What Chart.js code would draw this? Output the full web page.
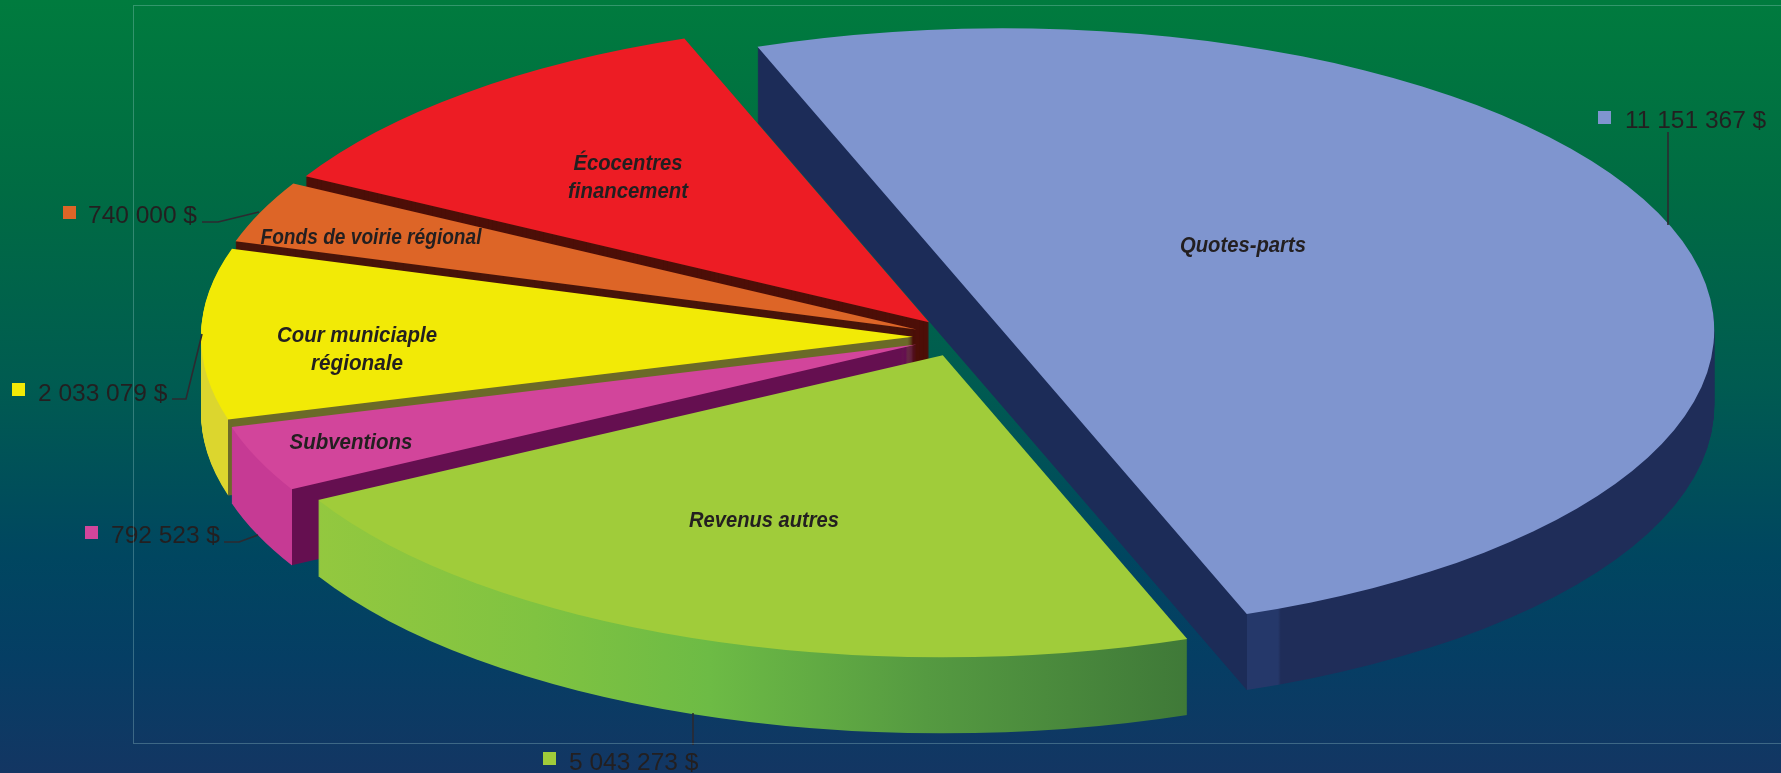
<!DOCTYPE html>
<html lang="fr">
<head>
<meta charset="utf-8">
<title>Revenus</title>
<script src="https://cdn.jsdelivr.net/npm/chart.js@4"></script>
<style>
  html, body { margin: 0; padding: 0; }
  body {
    width: 1781px; height: 773px; overflow: hidden;
    background: linear-gradient(to bottom, #007b3e 0%, #006b43 25%, #005b51 50%, #004660 72%, #053e64 85%, #133663 100%);
  }
  canvas { display: block; }
</style>
</head>
<body>
<canvas id="myChart" width="1781" height="773"></canvas>
<script>
// Data (Écocentres has no printed amount, estimated from its slice)
const categories = ["Quotes-parts", "Revenus autres", "Subventions", "Cour municiaple régionale", "Fonds de voirie régional", "Écocentres financement"];
const values = [11151367, 5043273, 792523, 2033079, 740000, 2540000];
const valueLabels = ["11 151 367 $", "5 043 273 $", "792 523 $", "2 033 079 $", "740 000 $", null];
const sliceColors = ["#7f95cf", "#a0cc3a", "#d2459b", "#f2ea06", "#dd6527", "#ed1c24"];

// Look of the 3D pie, in page pixels
const centerX = 959, centerY = 337;
const radiusX = 712, radiusY = 302;
const explode = 46, depth = 76;
const drawOrder = [0, 5, 4, 3, 2, 1];

// slice names: lines, x, first baseline, max width of each line
const nameBoxes = [
  { lines: ["Quotes-parts"], x: 1243, y: 252, w: [126] },
  { lines: ["Revenus autres"], x: 764, y: 527, w: [150] },
  { lines: ["Subventions"], x: 351, y: 449, w: [123] },
  { lines: ["Cour municiaple", "régionale"], x: 357, y: 342, w: [160, 92] },
  { lines: ["Fonds de voirie régional"], x: 371, y: 244, w: [221] },
  { lines: ["Écocentres", "financement"], x: 628, y: 170, w: [109, 120] },
];
// value labels: swatch x/y, text x, baseline, leader line points
const valueBoxes = [
  { sx: 1598, sy: 111, tx: 1625, ty: 128, leader: [[1668, 132], [1668, 225]] },
  { sx: 543, sy: 752, tx: 569, ty: 770, leader: [[693, 713], [693, 745]] },
  { sx: 85, sy: 526, tx: 111, ty: 543, leader: [[224, 542], [239, 542], [258, 535]] },
  { sx: 12, sy: 383, tx: 38, ty: 401, leader: [[172, 399], [186, 399], [202, 334]] },
  { sx: 63, sy: 206, tx: 88, ty: 223, leader: [[202, 222], [218, 222], [259, 212]] },
];

// Gradient along x for the side walls, hard stop at the front corner of the slice
function wallFill(ctx, arc, i) {
  const r = arc.outerRadius;
  const g = ctx.createLinearGradient(arc.x - r, 0, arc.x + r, 0);
  const t = (a) => (Math.cos(a) + 1) / 2;
  if (i === 0) {
    const c = t(arc.endAngle);
    g.addColorStop(0, "#1c2c58");
    g.addColorStop(c, "#1c2c58");
    g.addColorStop(c, "#25386a");
    g.addColorStop(c + 0.022, "#25386a");
    g.addColorStop(c + 0.024, "#1f2d59");
    g.addColorStop(1, "#1f2d59");
  } else if (i === 1) {
    const a = t(arc.endAngle), b = t(arc.startAngle);
    const at = (f) => a + (b - a) * f;
    g.addColorStop(0, "#93c83f");
    g.addColorStop(a, "#93c83f");
    g.addColorStop(at(0.25), "#80c341");
    g.addColorStop(at(0.45), "#6dbb45");
    g.addColorStop(at(0.7), "#559a41");
    g.addColorStop(b, "#3f7938");
    g.addColorStop(1, "#3f7938");
  } else if (i === 2) {
    const c = t(arc.startAngle);
    g.addColorStop(0, "#c63a94");
    g.addColorStop(c, "#c63a94");
    g.addColorStop(c, "#650f50");
    g.addColorStop(1, "#650f50");
  } else if (i === 3) {
    const c = t(arc.startAngle);
    g.addColorStop(0, "#dcd62e");
    g.addColorStop(c, "#dcd62e");
    g.addColorStop(c, "#6b6a28");
    g.addColorStop(1, "#6b6a28");
  } else if (i === 4) {
    return "#48150a";
  } else {
    return "#4d0f08";
  }
  return g;
}

const pie3d = {
  id: "pie3d",
  beforeDatasetDraw(chart) {
    const ctx = chart.ctx;
    const arcs = chart.getDatasetMeta(0).data;
    drawOrder.forEach((i) => {
      const arc = arcs[i];
      const sx = radiusX / arc.outerRadius;
      const sy = radiusY / arc.outerRadius;
      const mid = (arc.startAngle + arc.endAngle) / 2;
      const place = (drop) => {
        ctx.translate(centerX, centerY + drop);
        ctx.scale(sx, sy);
        ctx.translate(-arc.x, -arc.y);
        ctx.translate(Math.cos(mid) * explode / sx, Math.sin(mid) * explode / sx);
      };
      // side walls first, then the top face
      const wall = Object.create(arc);
      wall.options = Object.assign({}, arc.options, { backgroundColor: wallFill(ctx, arc, i) });
      for (let d = depth; d > 0; d--) {
        ctx.save();
        place(d);
        wall.draw(ctx);
        ctx.restore();
      }
      ctx.save();
      place(0);
      arc.draw(ctx);
      ctx.restore();
    });
    return false;
  },
  afterDraw(chart) {
    const ctx = chart.ctx;
    ctx.save();
    // slice names, squeezed a bit like the original
    ctx.fillStyle = "#231f20";
    ctx.font = "italic bold 22px 'Liberation Sans'";
    ctx.textAlign = "center";
    nameBoxes.forEach((b) => {
      b.lines.forEach((line, n) => ctx.fillText(line, b.x, b.y + n * 28, b.w[n]));
    });
    // amounts with swatch and leader line
    ctx.textAlign = "left";
    ctx.font = "24.5px 'Liberation Sans'";
    valueBoxes.forEach((b, i) => {
      ctx.fillStyle = sliceColors[i];
      ctx.fillRect(b.sx, b.sy, 13, 13);
      ctx.fillStyle = "#231f20";
      ctx.fillText(valueLabels[i], b.tx, b.ty);
      ctx.strokeStyle = "#2c2a30";
      ctx.lineWidth = 1.6;
      ctx.beginPath();
      b.leader.forEach((p, n) => (n ? ctx.lineTo(p[0], p[1]) : ctx.moveTo(p[0], p[1])));
      ctx.stroke();
    });
    // plot area frame, runs off the right side
    ctx.strokeStyle = "rgba(170,215,215,0.3)";
    ctx.lineWidth = 1;
    ctx.strokeRect(133.5, 5.5, 1660, 738);
    ctx.restore();
  },
};

new Chart(document.getElementById("myChart").getContext("2d"), {
  type: "pie",
  data: {
    labels: categories,
    datasets: [{ data: values, backgroundColor: sliceColors, borderWidth: 0 }],
  },
  options: {
    responsive: false,
    animation: false,
    devicePixelRatio: 1,
    rotation: -20.1,
    layout: { padding: 10 },
    plugins: { legend: { display: false }, tooltip: { enabled: false } },
  },
  plugins: [pie3d],
});
</script>
</body>
</html>
